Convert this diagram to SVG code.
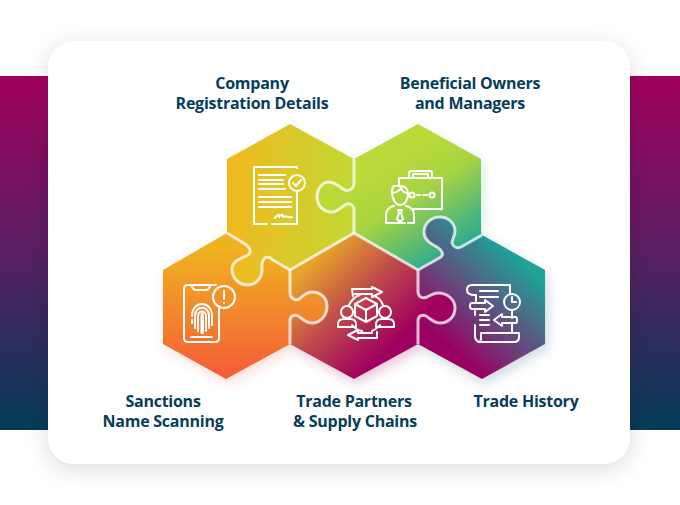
<svg xmlns="http://www.w3.org/2000/svg" width="680" height="505" viewBox="0 0 680 505">
<style>
.lbl{font-family:"Open Sans","Liberation Sans",sans-serif;font-weight:700;font-size:16px;fill:#063e5a;text-anchor:middle;letter-spacing:-.25px}
.ic{fill:none;stroke:#fff;stroke-width:2;stroke-linecap:round;stroke-linejoin:round}
.sep{fill:none;stroke:#fff;stroke-opacity:.74;stroke-width:3;stroke-linejoin:round}
</style>
<defs>
<linearGradient id="band" x1="0" y1="0" x2="0" y2="1"><stop offset="0" stop-color="#a1005f"/><stop offset=".5" stop-color="#581f62"/><stop offset="1" stop-color="#043c58"/></linearGradient>
<linearGradient id="gTL" gradientUnits="userSpaceOnUse" x1="227" y1="0" x2="354" y2="0"><stop offset="0" stop-color="#f2b81f"/><stop offset="1" stop-color="#c3d833"/></linearGradient>
<linearGradient id="gTR" gradientUnits="userSpaceOnUse" x1="385" y1="165" x2="450" y2="265"><stop offset="0" stop-color="#b9da39"/><stop offset=".35" stop-color="#a8d441"/><stop offset="1" stop-color="#1ba59b"/></linearGradient>
<linearGradient id="gBL" gradientUnits="userSpaceOnUse" x1="0" y1="250" x2="0" y2="379"><stop offset="0" stop-color="#efb221"/><stop offset="1" stop-color="#f55a38"/></linearGradient>
<linearGradient id="gBM" gradientUnits="userSpaceOnUse" x1="312" y1="262" x2="392" y2="345"><stop offset="0" stop-color="#e8a32c"/><stop offset=".5" stop-color="#be4a4a"/><stop offset="1" stop-color="#a0005f"/></linearGradient>
<linearGradient id="gBR" gradientUnits="userSpaceOnUse" x1="445" y1="345" x2="520" y2="262"><stop offset="0" stop-color="#9a0060"/><stop offset=".5" stop-color="#5f5080"/><stop offset="1" stop-color="#1fa196"/></linearGradient>
<filter id="card" x="-15%" y="-15%" width="130%" height="130%"><feGaussianBlur stdDeviation="11"/></filter>
<filter id="soft" x="-25%" y="-25%" width="150%" height="150%"><feGaussianBlur stdDeviation="6"/></filter>
</defs>

<rect x="0" y="76" width="680" height="354" fill="url(#band)"/>
<rect x="48" y="46" width="582" height="423" rx="26" fill="#000" fill-opacity=".14" filter="url(#card)"/>
<rect x="48" y="41" width="582" height="423" rx="26" fill="#fff"/>

<g id="shadows" filter="url(#soft)" opacity=".25" transform="translate(3 5)">
<path fill="#d8dc6a" d="M290 124L354 159V233L290 270L227 233V159Z"/>
<path fill="#60c090" d="M418 124L481 159V233L418 270L354 233V159Z"/>
<path fill="#f57a50" d="M227 233L290 270V344L226 379L163 344V270Z"/>
<path fill="#a0206f" d="M354 233L418 270V344L354 379L290 344V270Z"/>
<path fill="#406f88" d="M482 235L545 270V344L482 379L418 344V270Z"/>
</g>

<g id="node-company">
<path fill="url(#gTL)" d="M290 124L354 159V183C354 190 347 192 343 189C338 185 334 182 329 182C322 182 317 189 317 197C317 206 324 212 332 212C338 212 342 206 347 204C351 203 354 206 354 210V233L290 270L273 260C270 257 266 256 264 259C261 262 262 265 262 270C262 278 256 285 247 285C239 285 232 278 232 269C232 261 240 259 248 255C252 252 250 247 245 244L227 233V159Z"/>
<g class="ic">
<path d="M297 168V167H254V224H267M272 224H297V192"/>
<path d="M259 175H285M259 180H283M259 184H283M259 189H285M259 197H291M259 202H291M259 207H291"/>
<circle cx="297" cy="183" r="8"/>
<path d="M293 183L296 186L301 180"/>
<path d="M275 218C278 214 280 214 279 217C282 213 283 215 283 217C286 215 288 218 292 217"/>
</g>
<text class="lbl" x="252" y="89">Company</text>
<text class="lbl" x="252" y="109">Registration Details</text>
</g>

<g id="node-owners">
<path fill="url(#gTR)" d="M418 124L481 159V233L482 235L461 247C457 249 453 247 452 243C452 239 455 236 455 231C455 223 448 217 440 217C431 217 424 224 424 232C424 240 431 244 437 247C442 250 444 254 441 257L418 270L354 233V210C354 206 351 203 347 204C342 206 338 212 332 212C324 212 317 206 317 197C317 189 322 182 329 182C334 182 338 185 343 189C347 192 354 190 354 183V159Z"/>
<g class="ic">
<path d="M399 186V178H442V209H413"/>
<path d="M409 178V173Q409 171 411 171H430Q432 171 432 173V178M413 177V174H428V177"/>
<circle cx="412" cy="195" r="2.500"/><circle cx="432" cy="195" r="2.500"/>
<path d="M417 195H420M423 195H427"/>
<path d="M392 191C392 184 397 186 400 186C404 186 408 187 408 194C408 201 404 205 400 205C396 205 392 200 392 191Z"/>
<path d="M392 193C396 193 399 191 401 188C402 191 405 193 408 193"/>
<path d="M394 206C389 207 386 210 386 215V223H405M408 223H414V215C414 210 411 207 406 206"/>
<path d="M398 210H402L401 213L403 219L400 222L397 219L399 213Z"/>
</g>
<text class="lbl" x="470" y="89">Beneficial Owners</text>
<text class="lbl" x="470" y="109">and Managers</text>
</g>

<g id="node-sanctions">
<path fill="url(#gBL)" d="M227 233L245 244C250 247 252 252 248 255C240 259 232 261 232 269C232 278 239 285 247 285C256 285 262 278 262 270C262 265 261 262 264 259C266 256 270 257 273 260L290 270V292C290 298 294 301 299 299C303 296 306 292 312 292C321 292 327 298 327 306C327 316 320 323 312 323C306 323 303 319 298 316C294 314 290 316 290 321V344L226 379L163 344V270Z"/>
<g class="ic">
<path d="M216 285H188Q184 285 184 289V338Q184 342 188 342H215Q219 342 219 338V309"/>
<path d="M192 286Q193 290 196 290H206Q209 290 210 286"/>
<circle cx="224" cy="297" r="11"/>
<path d="M224 291V299M224 303V303"/>
<path d="M191 337H212"/>
<path d="M192 316C192 300 212 300 212 316V325M195 328V316C195 305 209 305 209 316V328M198 331V316C198 310 206 310 206 316V331M201.500 333V316C201.500 313 203 313 203 316V333M192 320V323"/>
</g>
<text class="lbl" x="163" y="407">Sanctions</text>
<text class="lbl" x="163" y="427">Name Scanning</text>
</g>

<g id="node-trade-partners">
<path fill="url(#gBM)" d="M354 233L418 270V291C418 297 422 299 427 297C431 295 434 293 438 293C448 293 455 300 455 308C455 317 448 323 440 323C434 323 431 319 426 316C422 314 418 316 418 321V344L354 379L290 344V321C290 316 294 314 298 316C303 319 306 323 312 323C320 323 327 316 327 306C327 298 321 292 312 292C306 292 303 296 299 299C294 301 290 298 290 292V270Z"/>
<g class="ic">
<path d="M366 298L377 304V316L366 322L355 316V304ZM355 304L366 310L377 304M366 310V322"/>
<circle cx="347" cy="312" r="6"/><circle cx="385" cy="312" r="6"/>
<path d="M338 327V324Q338 319 344 319H350Q356 319 356 324V327ZM376 327V324Q376 319 382 319H388Q394 319 394 324V327Z"/>
<path d="M353 296L352 289H372V287L382 292L372 297V294H355"/>
<path d="M377 332V338H358V340L348 335L358 330V333H372"/>
<path d="M349 305Q353 297 360 295M383 305Q380 297 373 296M352 325Q356 330 362 331M380 325Q377 329 372 331"/>
</g>
<text class="lbl" x="354" y="407">Trade Partners</text>
<text class="lbl" x="355" y="427">&amp; Supply Chains</text>
</g>

<g id="node-trade-history">
<path fill="url(#gBR)" d="M482 235L545 270V344L482 379L418 344V321C418 316 422 314 426 316C431 319 434 323 440 323C448 323 455 317 455 308C455 300 448 293 438 293C434 293 431 295 427 297C422 299 418 297 418 291V270L441 257C444 254 442 250 437 247C431 244 424 240 424 232C424 224 431 217 440 217C448 217 455 223 455 231C455 236 452 239 452 243C453 247 457 249 461 247Z"/>
<g class="ic">
<path d="M472 285H510V294M512 310V318M512 323V333M472 285Q467 285 467 290Q467 295 475 295H476V301M475 311V315M475 325V336Q475 342 481 342H514Q519 342 519 337V333H481V339Q481 342 478 342"/>
<circle cx="512" cy="302" r="8"/>
<path d="M512 297V302H516"/>
<path d="M480 291H498M480 297H498M480 315H489M480 320H489M480 325H489"/>
<path d="M485 303H472Q470 303 470 306Q470 309 472 309H485V312L493 306L485 300Z"/>
<path d="M502 317H516Q517 317 517 320Q517 323 516 323H502V326L494 320L502 314Z"/>
</g>
<text class="lbl" x="526" y="407">Trade History</text>
</g>

<g id="connectors" class="sep">
<path d="M354 159V183C354 190 347 192 343 189C338 185 334 182 329 182C322 182 317 189 317 197C317 206 324 212 332 212C338 212 342 206 347 204C351 203 354 206 354 210V233"/>
<path d="M227 233L245 244C250 247 252 252 248 255C240 259 232 261 232 269C232 278 239 285 247 285C256 285 262 278 262 270C262 265 261 262 264 259C266 256 270 257 273 260L290 270"/>
<path d="M290 270V292C290 298 294 301 299 299C303 296 306 292 312 292C321 292 327 298 327 306C327 316 320 323 312 323C306 323 303 319 298 316C294 314 290 316 290 321V344"/>
<path d="M418 270V291C418 297 422 299 427 297C431 295 434 293 438 293C448 293 455 300 455 308C455 317 448 323 440 323C434 323 431 319 426 316C422 314 418 316 418 321V344"/>
<path d="M482 235L461 247C457 249 453 247 452 243C452 239 455 236 455 231C455 223 448 217 440 217C431 217 424 224 424 232C424 240 431 244 437 247C442 250 444 254 441 257L418 270"/>
<path d="M290 270L354 233L418 270"/>
</g>
</svg>
